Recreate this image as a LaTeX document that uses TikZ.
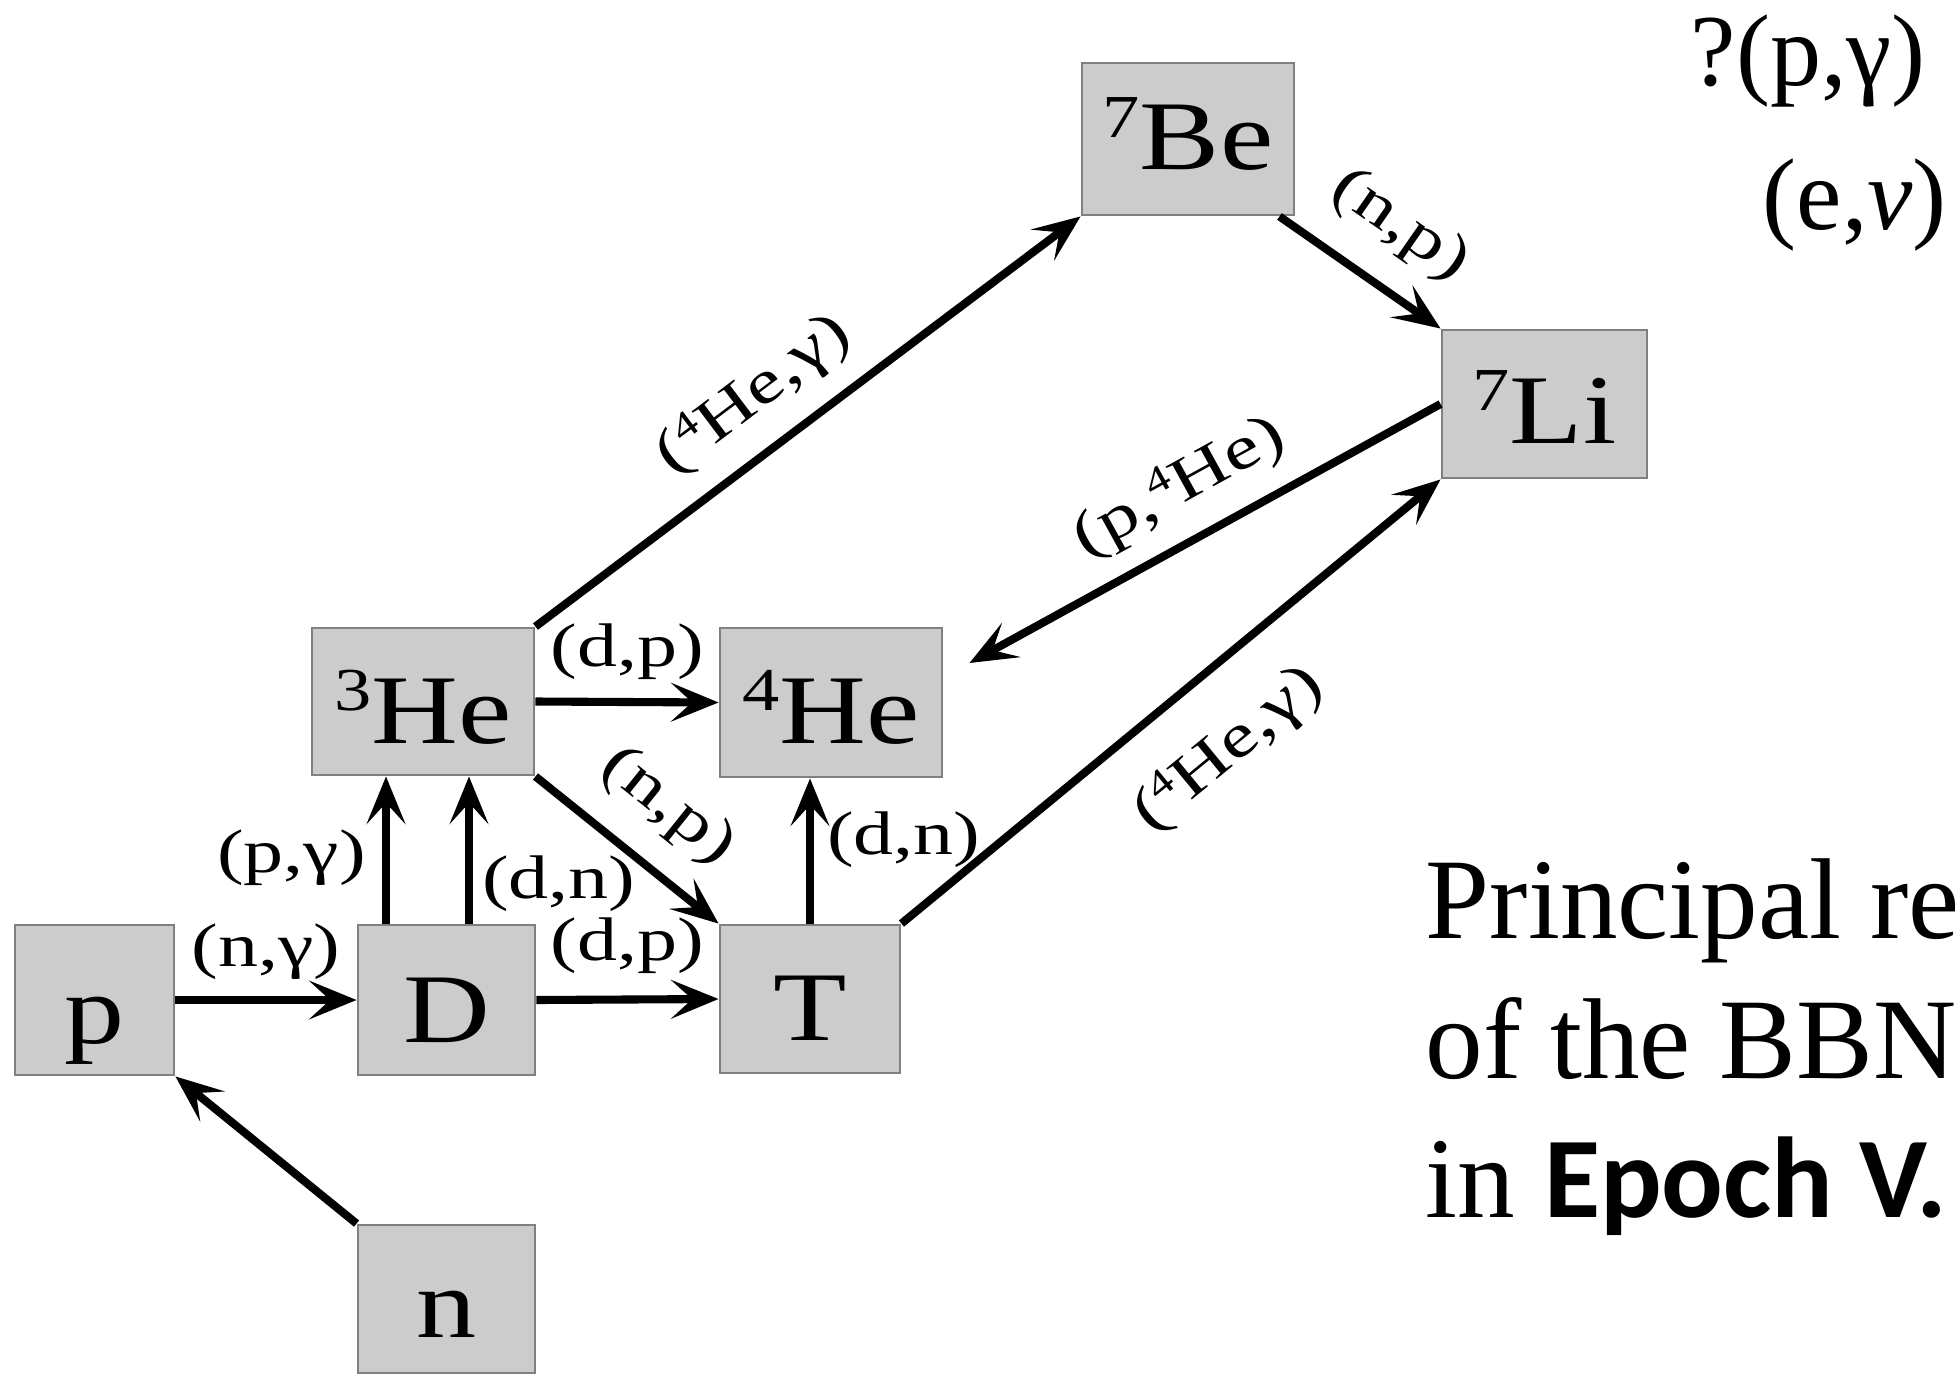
\documentclass[tikz,border=0pt]{standalone}
\usepackage{fontspec}
\usepackage{graphicx}
\setmainfont{Liberation Serif}
\newfontfamily\tfont[FakeStretch=1.001]{Liberation Serif}
\newfontfamily\dfont[FakeStretch=1.3]{Liberation Serif}
\newfontfamily\bxfont[FakeStretch=1.22]{Liberation Serif}
\newfontfamily\cfont{Carlito}
\usetikzlibrary{arrows.meta,calc}
\newlength\pxu \setlength\pxu{0.01cm}
\newcommand\isup[1]{\raisebox{0.33em}{\scalebox{0.62}{#1}}}
\newcommand\bl[2]{\raisebox{-#2\pxu}{#1}}
\definecolor{boxfill}{HTML}{CCCCCC}
\definecolor{boxline}{HTML}{808080}
\begin{document}
\begin{tikzpicture}[x=0.01cm, y=-0.01cm,
  box/.style={draw=boxline, fill=boxfill, line width=0.8pt, inner sep=0pt,
    text height=0pt, text depth=0pt, minimum height=1.48cm,
    font=\bxfont\fontsize{28}{30}\selectfont},
  arr/.style={line width=2.3pt, -{Stealth[length=13.5pt,width=11pt,inset=6pt]}},
  rarr/.style={line width=2.3pt, {Stealth[length=13.5pt,width=11pt,inset=6pt]}-},
  elab/.style={font=\dfont\fontsize{17.5}{19}\selectfont, inner sep=0pt},
  captext/.style={anchor=base west, inner sep=0pt, font=\tfont\fontsize{32.7}{34}\selectfont},
  sidetext/.style={anchor=base west, inner sep=0pt, font=\tfont\fontsize{29}{30}\selectfont}
]
\path[use as bounding box, fill=white] (0,0) rectangle (1955,1376);

% boxes
\node[box, minimum width=2.12cm, minimum height=1.52cm] (Be7) at (1188,139) {\bl{\isup{7}Be}{31}};
\node[box, minimum width=2.05cm] (Li7) at (1544.5,404) {\bl{\isup{7}Li}{39}};
\node[box, minimum width=2.22cm, minimum height=1.47cm] (He3) at (423,701.5) {\bl{\isup{3}He}{41.5}};
\node[box, minimum width=2.22cm, minimum height=1.49cm] (He4) at (831,702.5) {\bl{\isup{4}He}{40.5}};
\node[box, minimum width=1.59cm, minimum height=1.50cm] (p) at (94.5,1000) {\bl{p}{43}};
\node[box, minimum width=1.77cm, minimum height=1.50cm] (D) at (446.5,1000) {\bl{D}{42}};
\node[box, minimum width=1.80cm] (T) at (810,999) {\bl{T}{41}};
\node[box, minimum width=1.77cm] (n) at (446.5,1299) {\bl{n}{38}};

% connectors
\draw[arr] (p.east) -- node[elab, above=16\pxu] {(n,γ)} (D.west);
\draw[arr] (D.east) -- node[elab, above=22\pxu] {(d,p)} (T.west);
\draw[arr] (He3.east) -- node[elab, above=18\pxu] {(d,p)} (He4.west);
\draw[arr] ([xshift=-60.5\pxu]D.north) -- node[elab, left=16\pxu, pos=0.45] {(p,γ)} ([xshift=-60.5\pxu]D.north |- He3.south);
\draw[arr] ([xshift=22.5\pxu]D.north) -- node[elab, right=9\pxu, pos=0.27] {(d,n)} ([xshift=22.5\pxu]D.north |- He3.south);
\draw[arr] (T.north) -- node[elab, right=13\pxu, pos=0.58] {(d,n)} (T.north |- He4.south);
\draw[arr] (He3.south east) -- node[elab, sloped, above=27.5\pxu, pos=0.52] {(n,p)} (T.north west);
\draw[arr] (T.north east) -- node[elab, sloped, below=40\pxu, pos=0.52] {(\isup{4}He,γ)} (Li7.south west);
\coordinate (he4tip) at ($(He4.east)+(26,-39.5)$);
\draw[rarr] (he4tip) -- node[elab, sloped, above=19.5\pxu, pos=0.5] {(p,\isup{4}He)} (Li7.west);
\draw[arr] (He3.north east) -- node[elab, sloped, above=20.5\pxu, pos=0.46] {(\isup{4}He,γ)} (Be7.south west);
\draw[arr] ([xshift=-16\pxu]Be7.south east) -- node[elab, sloped, above=29\pxu, pos=0.53] {(n,p)} (Li7.north west);
\draw[arr] (n.north west) -- (p.south east);

% side texts
\node[sidetext] (q1) at (1690,86) {?(p,γ)};
\node[sidetext] (q2) at (1762,229) {(e,\textit{ν})};
\node[captext] (c1) at (1425,938) {Principal re};
\node[captext] (c2) at (1425,1078) {of the BBN};
\node[captext] (c3) at (1425,1217) {in {\cfont\bfseries Epoch V.}};
\end{tikzpicture}
\end{document}
